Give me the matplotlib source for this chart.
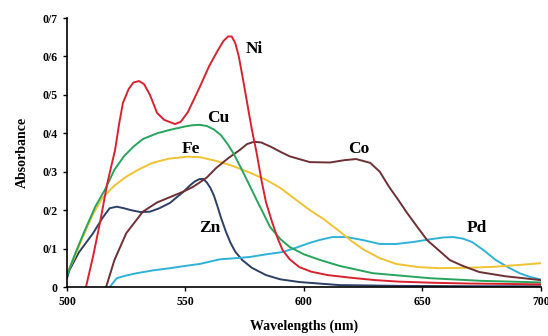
import matplotlib
matplotlib.use("Agg")
import matplotlib.pyplot as plt

# absorption spectra (wavelength nm, absorbance)
ni_x = [508, 511, 514, 517, 520.3, 522, 523.6, 526, 528, 530.4, 532.5, 535, 538, 541, 545.6,
        548, 551, 556, 560, 563.3, 566, 568, 569.5, 571, 572.5, 574, 576, 578, 580, 582, 584,
        586.5, 589, 591, 594, 598, 603, 610, 620, 630, 640, 655, 670, 685, 700]
ni_y = [0, 0.08, 0.17, 0.27, 0.357, 0.425, 0.479, 0.515, 0.532, 0.536, 0.528, 0.5, 0.453, 0.435,
        0.424, 0.43, 0.455, 0.52, 0.575, 0.612, 0.64, 0.652, 0.652, 0.635, 0.6, 0.55, 0.48, 0.41,
        0.35, 0.28, 0.22, 0.17, 0.125, 0.096, 0.072, 0.052, 0.04, 0.031, 0.024, 0.018, 0.014,
        0.011, 0.009, 0.008, 0.007]

cu_x = [500, 503, 507, 512, 516, 520, 524, 528, 532, 538, 543.5, 550, 553, 556, 559, 562, 565,
        568, 570.5, 573, 577, 580, 583, 585.7, 590, 594, 600, 607, 615, 629, 653, 675, 700]
cu_y = [0.03, 0.08, 0.14, 0.21, 0.253, 0.305, 0.34, 0.365, 0.385, 0.40, 0.409, 0.418, 0.421,
        0.422, 0.419, 0.41, 0.395, 0.37, 0.345, 0.315, 0.265, 0.227, 0.19, 0.156, 0.125, 0.104,
        0.085, 0.07, 0.055, 0.036, 0.023, 0.016, 0.012]

fe_x = [500, 503, 507, 511, 515, 520, 525, 530, 536, 543, 550.6, 556, 563, 570, 577, 584, 590,
        596, 602.5, 608, 615, 620, 625, 632, 639, 648, 657, 668, 678.5, 690, 700]
fe_y = [0.036, 0.075, 0.135, 0.19, 0.232, 0.264, 0.287, 0.305, 0.323, 0.334, 0.339, 0.338,
        0.328, 0.315, 0.298, 0.279, 0.258, 0.23, 0.2, 0.178, 0.145, 0.12, 0.098, 0.075, 0.06,
        0.052, 0.049, 0.05, 0.052, 0.057, 0.062]

co_x = [516.5, 520, 525, 532, 538, 543.5, 549, 553, 556, 559, 563, 568, 573, 576, 579, 582, 586,
        590, 594, 602.5, 611, 617, 622, 628, 632, 636, 640, 643.5, 648, 652, 657, 661.6, 667,
        674, 685, 700]
co_y = [0, 0.07, 0.14, 0.196, 0.22, 0.234, 0.248, 0.26, 0.272, 0.285, 0.31, 0.335, 0.357, 0.372,
        0.378, 0.376, 0.365, 0.352, 0.34, 0.325, 0.324, 0.33, 0.333, 0.323, 0.3, 0.26, 0.225,
        0.193, 0.155, 0.122, 0.095, 0.07, 0.055, 0.039, 0.028, 0.018]

zn_x = [500, 501, 505, 511, 515, 518, 521, 524, 527, 531, 535, 539, 543.5, 546, 549, 552, 554,
        556, 557.5, 559, 560.5, 562, 563.5, 565, 567, 569, 571, 574, 578, 584, 590, 598, 615,
        640, 670, 700]
zn_y = [0.023, 0.044, 0.09, 0.14, 0.18, 0.205, 0.209, 0.205, 0.2, 0.195, 0.196, 0.205, 0.219,
        0.232, 0.247, 0.265, 0.275, 0.281, 0.281, 0.272, 0.258, 0.238, 0.21, 0.18, 0.145, 0.115,
        0.092, 0.07, 0.05, 0.031, 0.02, 0.013, 0.005, 0.003, 0.002, 0.002]

pd_x = [518, 521, 525, 529.5, 536, 543.5, 550, 556, 564.5, 571, 577, 584, 591, 597, 602.5, 607,
        612, 618, 625, 632, 639, 646, 653, 659, 663, 667, 671, 676, 681, 686, 691, 695, 699.6]
pd_y = [0, 0.023, 0.03, 0.036, 0.043, 0.049, 0.055, 0.06, 0.072, 0.075, 0.078, 0.085, 0.091,
        0.103, 0.115, 0.123, 0.13, 0.13, 0.122, 0.112, 0.112, 0.117, 0.124, 0.129, 0.13, 0.126,
        0.117, 0.095, 0.07, 0.052, 0.036, 0.027, 0.02]

x_ticks = [500, 550, 600, 650, 700]
y_ticks = [0, 0.1, 0.2, 0.3, 0.4, 0.5, 0.6, 0.7]
y_tick_labels = ["0", "0/1", "0/2", "0/3", "0/4", "0/5", "0/6", "0/7"]

series = [
    ("Zn", zn_x, zn_y, "#2d3f66"),
    ("Pd", pd_x, pd_y, "#2fb2d8"),
    ("Fe", fe_x, fe_y, "#f1c232"),
    ("Co", co_x, co_y, "#6e3034"),
    ("Cu", cu_x, cu_y, "#27a55c"),
    ("Ni", ni_x, ni_y, "#d8232f"),
]
# label positions in data units
labels = {"Ni": (579, 0.62), "Cu": (563.7, 0.441), "Fe": (552.3, 0.359),
          "Co": (623.3, 0.359), "Pd": (673, 0.154), "Zn": (560.2, 0.154)}

plt.rcParams['font.family'] = ['Liberation Serif', 'DejaVu Serif']

fig = plt.figure(figsize=(5.48, 3.36), dpi=100)
ax = fig.add_axes([0.1223, 0.1458, 0.8647, 0.8006])

for name, xs, ys, col in series:
    ax.plot(xs, ys, color=col, lw=1.4, solid_joinstyle="round")
    lx, ly = labels[name]
    ax.text(lx, ly, name, ha="center", va="center", fontsize=12.5, fontweight="bold")

ax.set_xlim(500, 700)
ax.set_ylim(0, 0.7)
ax.set_xticks(x_ticks)
ax.set_yticks(y_ticks)
ax.set_yticklabels(y_tick_labels)
for lab in ax.get_xticklabels() + ax.get_yticklabels():
    lab.set_fontweight("bold")
    lab.set_fontsize(8.5)
ax.tick_params(direction="out", length=3, width=1)
ax.spines["top"].set_visible(False)
ax.spines["right"].set_visible(False)
ax.spines["left"].set_linewidth(1.2)
ax.spines["bottom"].set_linewidth(1.2)
ax.set_xlabel("Wavelengths (nm)", fontsize=10, fontweight="bold", labelpad=8)
ax.set_ylabel("Absorbance", fontsize=10, fontweight="bold", labelpad=10)

fig.savefig("out.png", dpi=100)
